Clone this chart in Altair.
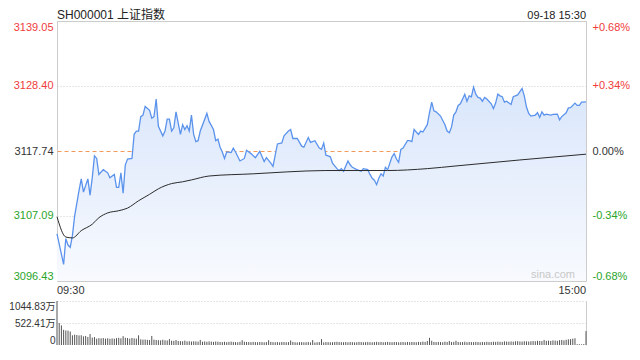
import altair as alt
import pandas as pd

# ---------------- data ----------------
PREV_CLOSE = 3117.74
Y_TICKS = [3096.43, 3107.09, 3117.74, 3128.40, 3139.05]
VOL_TICKS = [0, 522.41, 1044.83]
X_TICKS = [0, 30, 60, 90, 120, 150, 180, 210, 240]
TIME_START, TIME_END = "09:30", "15:00"
TITLE = "SH000001 上证指数"
DATE_LABEL = "09-18 15:30"
WATERMARK = "sina.com"

price_minutes = [
    0, 3, 4, 5, 6, 7, 8, 10, 11, 12,
    14, 15, 16, 17, 18, 19, 21, 23, 24, 26,
    27, 28, 29, 30, 31, 32, 34, 35, 36, 37,
    38, 39, 40, 42, 43, 44, 45, 46, 48, 49,
    50, 51, 52, 53, 54, 56, 57, 58, 59, 60,
    61, 62, 63, 64, 65, 68, 69, 71, 72, 73,
    74, 75, 76, 77, 79, 80, 81, 83, 85, 86,
    88, 90, 92, 94, 95, 97, 98, 100, 102, 103,
    105, 106, 107, 109, 111, 112, 114, 115, 117, 119,
    120, 121, 122, 123, 124, 125, 127, 128, 129, 130,
    132, 133, 134, 136, 138, 139, 141, 142, 143, 144,
    145, 146, 147, 148, 149, 150, 152, 153, 154, 155,
    156, 157, 159, 160, 161, 162, 164, 165, 166, 168,
    169, 170, 171, 172, 174, 176, 177, 178, 179, 180,
    181, 182, 183, 185, 186, 187, 188, 189, 190, 191,
    192, 193, 194, 195, 197, 198, 199, 200, 201, 202,
    203, 204, 206, 207, 209, 210, 211, 212, 213, 214,
    215, 217, 218, 219, 220, 221, 222, 224, 225, 227,
    228, 229, 231, 232, 233, 235, 236, 237, 238, 240,
]
price_values = [
    3104.17, 3099.16, 3103.38, 3102.32, 3101.95, 3103.90, 3107.05, 3111.27, 3113.16, 3111.00,
    3113.16, 3110.48, 3113.37, 3116.95, 3116.52, 3113.90, 3114.69, 3114.16, 3113.37, 3113.90,
    3111.79, 3111.79, 3114.16, 3110.84, 3115.48, 3116.43, 3116.52, 3120.47, 3121.01, 3121.01,
    3123.38, 3123.63, 3125.05, 3124.42, 3123.11, 3123.38, 3126.26, 3121.80, 3120.22, 3121.01,
    3122.95, 3122.95, 3121.01, 3121.53, 3124.16, 3120.47, 3122.05, 3121.26, 3121.89, 3121.01,
    3123.63, 3120.47, 3119.27, 3119.43, 3121.01, 3123.90, 3122.59, 3121.26, 3119.43, 3119.68,
    3118.37, 3117.58, 3116.52, 3117.58, 3117.47, 3118.21, 3117.58, 3116.11, 3116.52, 3117.85,
    3117.31, 3116.64, 3117.69, 3116.00, 3116.64, 3115.74, 3115.21, 3118.89, 3119.05, 3120.22,
    3121.01, 3121.26, 3119.79, 3119.79, 3118.53, 3118.37, 3119.95, 3119.16, 3119.43, 3118.21,
    3118.01, 3119.05, 3117.06, 3116.95, 3116.79, 3115.74, 3114.85, 3114.54, 3114.85, 3114.43,
    3116.11, 3115.48, 3115.06, 3114.69, 3114.43, 3114.85, 3114.69, 3113.90, 3113.27, 3112.96,
    3112.22, 3113.27, 3114.00, 3113.64, 3115.06, 3114.69, 3116.79, 3117.31, 3116.43, 3115.89,
    3118.01, 3118.21, 3119.43, 3119.43, 3119.27, 3121.26, 3120.47, 3121.01, 3120.85, 3122.05,
    3124.01, 3125.74, 3124.32, 3124.16, 3123.47, 3122.05, 3121.01, 3120.74, 3121.69, 3123.63,
    3124.16, 3125.21, 3125.47, 3127.05, 3125.90, 3126.78, 3126.63, 3128.21, 3127.05, 3126.53,
    3126.42, 3125.90, 3126.53, 3126.26, 3125.47, 3124.69, 3125.59, 3127.05, 3126.78, 3126.63,
    3125.74, 3125.90, 3125.36, 3126.63, 3126.94, 3127.48, 3128.00, 3126.78, 3124.95, 3123.90,
    3123.47, 3123.63, 3124.01, 3123.26, 3124.16, 3123.63, 3123.79, 3123.63, 3123.74, 3123.79,
    3122.84, 3123.38, 3124.01, 3124.80, 3124.84, 3125.59, 3125.21, 3125.21, 3125.74, 3125.79,
]

avg_minutes = [0, 4, 7, 11, 16, 19, 23, 28, 32, 37, 42, 46, 52, 57, 61, 69,
               89, 104, 122, 150, 168, 181, 210, 240]
avg_values = [3106.96, 3103.64, 3103.49, 3104.69, 3105.74, 3106.80, 3107.59, 3107.95,
              3108.38, 3109.58, 3110.64, 3111.54, 3112.40, 3112.69, 3113.00, 3113.64,
              3114.00, 3114.31, 3114.54, 3114.54, 3114.85, 3115.29, 3116.27, 3117.22]

# volume per minute, in 万
volumes = [
    1044.83, 520, 465, 360, 345, 342, 320, 230, 245, 238,
    228, 232, 205, 215, 190, 260, 175, 188, 150, 162,
    158, 165, 152, 160, 148, 155, 150, 162, 170, 158,
    210, 172, 165, 150, 168, 158, 152, 230, 135, 128,
    130, 122, 118, 215, 128, 120, 115, 110, 125, 112,
    108, 140, 102, 98, 118, 95, 92, 88, 105, 85,
    90, 82, 88, 85, 80, 120, 78, 84, 76, 86,
    80, 74, 82, 78, 72, 70, 76, 68, 74, 80,
    72, 70, 66, 75, 115, 78, 72, 70, 68, 74,
    70, 66, 72, 68, 64, 70, 112, 75, 68, 66,
    70, 64, 72, 68, 66, 70, 108, 74, 66, 62,
    68, 70, 64, 66, 72, 62, 118, 60, 65, 70,
    140, 62, 70, 68, 64, 66, 72, 75, 70, 68,
    66, 72, 64, 70, 68, 62, 66, 74, 70, 65,
    68, 72, 66, 64, 70, 75, 68, 72, 66, 70,
    74, 68, 66, 72, 70, 64, 68, 70, 66, 72,
    68, 72, 70, 66, 74, 70, 80, 72, 95, 170,
    100, 72, 68, 74, 70, 66, 80, 72, 96, 70,
    74, 100, 72, 68, 70, 78, 66, 72, 70, 68,
    74, 70, 66, 72, 68, 76, 70, 72, 78, 74,
    80, 76, 72, 86, 82, 78, 84, 80, 88, 92,
    84, 80, 90, 86, 82, 88, 94, 90, 100, 96,
    92, 120, 98, 104, 96, 110, 105, 100, 115, 120,
    110, 125, 135, 140, 150, 160, 20, 18, 16, 22,
    330,
]

# ---------------- style ----------------
W, H1, H2 = 529, 260, 44
RED, GREEN, DARK = "#f03c3c", "#2aa52a", "#333333"
GRID = "#cccccc"
FONT = "Liberation Sans, Arial, Noto Sans CJK SC"

price_df = pd.DataFrame({"m": price_minutes, "price": price_values})
avg_df = pd.DataFrame({"m": avg_minutes, "avg": avg_values})
vol_df = pd.DataFrame({"m": list(range(len(volumes))), "vol": volumes})

xscale = alt.Scale(domain=[X_TICKS[0], X_TICKS[-1]], nice=False, zero=False)
yscale = alt.Scale(domain=[Y_TICKS[0], Y_TICKS[-1]], nice=False, zero=False)

is_mid = f"abs(datum.value - {PREV_CLOSE}) < 0.001"
label_colors = {
    "condition": [
        {"test": f"datum.value > {PREV_CLOSE + 0.01}", "value": RED},
        {"test": f"datum.value < {PREV_CLOSE - 0.01}", "value": GREEN},
    ],
    "value": DARK,
}

x_axis = alt.Axis(
    values=X_TICKS, grid=True, gridColor=GRID, gridDash=[1, 2], ticks=False,
    domain=False, labels=False, title=None,
)
left_axis = alt.Axis(
    values=Y_TICKS, orient="left", grid=True,
    gridColor={"condition": {"test": is_mid, "value": "#f29a5c"}, "value": GRID},
    gridDash={"condition": {"test": is_mid, "value": [4, 3]}, "value": [1, 2]},
    labelColor=label_colors, ticks=False, domain=False, labelFlush=True,
    format=".2f", labelFontSize=11, labelPadding=4, title=None,
)
right_axis = alt.Axis(
    values=Y_TICKS, orient="right", grid=False, ticks=False, domain=False,
    labelFlush=True, labelFontSize=11, labelPadding=6, title=None,
    labelColor=label_colors,
    labelExpr=(f"(datum.value > {PREV_CLOSE + 0.01} ? '+' : '') + "
               f"replace(format((datum.value - {PREV_CLOSE}) / {PREV_CLOSE} * 100, '.2f'), '\u2212', '-') + '%'"),
)

fill = alt.Gradient(
    gradient="linear",
    stops=[alt.GradientStop(color="#d9e6fb", offset=0),
           alt.GradientStop(color="#f8fafe", offset=1)],
    x1=0, x2=0, y1=0, y2=1,
)

area = alt.Chart(price_df).mark_area(fill=fill).encode(
    x=alt.X("m:Q", scale=xscale, axis=x_axis),
    y=alt.Y("price:Q", scale=yscale, axis=left_axis),
    y2=alt.datum(Y_TICKS[0]),
)
line = alt.Chart(price_df).mark_line(color="#5b93ec", strokeWidth=1.3).encode(
    x=alt.X("m:Q", scale=xscale, axis=None),
    y=alt.Y("price:Q", scale=yscale, axis=right_axis),
)
avg = alt.Chart(avg_df).mark_line(color="#2b2b2b", strokeWidth=1, interpolate="monotone").encode(
    x=alt.X("m:Q", scale=xscale, axis=None),
    y=alt.Y("avg:Q", scale=yscale, axis=None),
)

start_lbl = alt.Chart(pd.DataFrame({"m": [X_TICKS[0]], "t": [TIME_START]})).mark_text(
    align="left", baseline="top", fontSize=11, color=DARK
).encode(x=alt.X("m:Q", scale=xscale, axis=None), y=alt.value(H1 + 4), text="t:N")
end_lbl = alt.Chart(pd.DataFrame({"m": [X_TICKS[-1]], "t": [TIME_END]})).mark_text(
    align="right", baseline="top", fontSize=11, color=DARK
).encode(x=alt.X("m:Q", scale=xscale, axis=None), y=alt.value(H1 + 4), text="t:N")

sina = alt.Chart(pd.DataFrame({"t": [WATERMARK]})).mark_text(
    align="right", baseline="bottom", fontSize=11, color="#c8c8c8"
).encode(x=alt.value(W - 11), y=alt.value(H1 - 1), text="t:N")
date = alt.Chart(pd.DataFrame({"t": [DATE_LABEL]})).mark_text(
    align="right", baseline="alphabetic", fontSize=11, color="#222222"
).encode(x=alt.value(W), y=alt.value(-2), text="t:N")
title = alt.Chart(pd.DataFrame({"t": [TITLE]})).mark_text(
    align="left", baseline="alphabetic", fontSize=12, color="#222222"
).encode(x=alt.value(0), y=alt.value(-2), text="t:N")

top = alt.layer(area, line, avg, start_lbl, end_lbl, sina, date, title).resolve_axis(
    y="independent"
).properties(width=W, height=H1, view=alt.ViewBackground(stroke=GRID))

vscale = alt.Scale(domain=[0, VOL_TICKS[-1]], nice=False)
vol_axis = alt.Axis(
    values=VOL_TICKS, grid=True,
    gridColor={"condition": {"test": "datum.value < 1", "value": "transparent"}, "value": GRID},
    gridDash=[1, 2], ticks=False, domain=False, labelFlush=True,
    labelExpr="datum.value == 0 ? '0' : format(datum.value, '.2f') + '万'",
    labelFontSize=10, labelPadding=2, labelColor=DARK, title=None,
)
bars = alt.Chart(vol_df).mark_rule(color="#555555", strokeWidth=1).encode(
    x=alt.X("m:Q", scale=xscale, axis=None),
    y=alt.Y("vol:Q", scale=vscale, axis=vol_axis),
    y2=alt.datum(0),
)
edge = alt.Chart(vol_df).mark_point(opacity=0).encode(
    x=alt.X("m:Q", scale=xscale, axis=None),
    y=alt.Y("vol:Q", scale=vscale,
            axis=alt.Axis(orient="right", labels=False, ticks=False, grid=False,
                          domain=True, domainColor=GRID, title=None)),
)
bottom = alt.layer(bars, edge).resolve_axis(y="independent").properties(
    width=W, height=H2, view=alt.ViewBackground(stroke="transparent"),
)

chart = alt.vconcat(top, bottom, spacing=20, bounds="flush").properties(
    padding={"left": 0, "top": 0, "right": 0, "bottom": 0},
).configure(font=FONT).configure_axis(labelFont=FONT)

chart.save("out.html", embed_options={"renderer": "svg", "actions": False})
